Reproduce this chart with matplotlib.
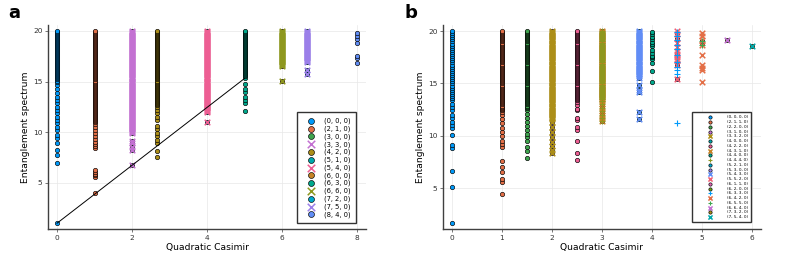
import matplotlib
matplotlib.use("Agg")
import matplotlib.pyplot as plt

# Julia Plots default palette
palette = ['#009AFA', '#E36F47', '#3EA44E', '#C371D2', '#AC8E18', '#00A9AD',
           '#ED5E93', '#C68225', '#00A98D', '#8E971E', '#00A8CB', '#9B7FE9',
           '#618DF6', '#F05F73', '#DD65B6', '#6C9E17']

# levels of the dense part of every column (read as a near continuous run)
dense_levels = [8.0, 8.1, 8.2, 8.3, 8.4, 8.5, 8.6, 8.7, 8.8, 8.9, 9.0, 9.1, 9.2, 9.3,
                9.4, 9.5, 9.6, 9.7, 9.8, 9.9, 10.0, 10.1, 10.2, 10.3, 10.4, 10.5, 10.6,
                10.7, 10.8, 10.9, 11.0, 11.1, 11.2, 11.3, 11.4, 11.5, 11.6, 11.7, 11.8,
                11.9, 12.0, 12.1, 12.2, 12.3, 12.4, 12.5, 12.6, 12.7, 12.8, 12.9, 13.0,
                13.1, 13.2, 13.3, 13.4, 13.5, 13.6, 13.7, 13.8, 13.9, 14.0, 14.1, 14.2,
                14.3, 14.4, 14.5, 14.6, 14.7, 14.8, 14.9, 15.0, 15.1, 15.2, 15.3, 15.4,
                15.5, 15.6, 15.7, 15.8, 15.9, 16.0, 16.1, 16.2, 16.3, 16.4, 16.5, 16.6,
                16.7, 16.8, 16.9, 17.0, 17.1, 17.2, 17.3, 17.4, 17.5, 17.6, 17.7, 17.8,
                17.9, 18.0, 18.1, 18.2, 18.3, 18.4, 18.5, 18.6, 18.7, 18.8, 18.9, 19.0,
                19.1, 19.2, 19.3, 19.4, 19.5, 19.6, 19.7, 19.8, 19.9, 20.0]


def column(sparse, start):
    return sparse + [v for v in dense_levels if v >= start]


# ---------------- panel a : SU(3) ----------------
a_labels = ['(0, 0, 0)', '(2, 1, 0)', '(3, 0, 0)', '(3, 3, 0)', '(4, 2, 0)', '(5, 1, 0)',
            '(5, 4, 0)', '(6, 0, 0)', '(6, 3, 0)', '(6, 6, 0)', '(7, 2, 0)', '(7, 5, 0)',
            '(8, 4, 0)']
a_casimir = [0, 1, 2, 2, 2.667, 4, 4, 6, 5, 6, 6.667, 6.667, 8]
a_markers = ['o', 'o', 'o', 'x', 'o', 'o', 'x', 'o', 'o', 'x', 'o', 'x', 'o']

a_y_0 = column([1.03, 6.95, 7.75, 8.2, 8.9, 9.4, 9.75, 10.2, 10.55, 10.9, 11.2, 11.5, 11.9,
                12.2, 12.5, 12.9, 13.2, 13.5, 13.85, 14.3, 14.7], 15.0)
a_y_1 = column([4.05, 5.6, 5.75, 5.9, 6.1, 6.3, 8.4, 8.6, 8.8, 9.0, 9.3, 9.6, 9.9, 10.2,
                10.5, 10.8], 11.0)
a_y_2 = column([6.8, 8.25, 8.5, 8.9, 9.15], 9.9)
a_y_3 = column([7.6, 8.15, 8.9, 9.25, 9.6, 9.9, 10.3, 10.6, 11.2, 11.5, 11.9, 12.2, 12.5], 12.7)
a_y_4 = column([11.0], 12.0)
a_y_5 = column([12.05, 12.9, 13.2, 13.5, 14.0, 14.3, 14.8, 15.3], 15.5)
a_y_6 = column([15.1], 16.5)
a_y_7 = column([15.75, 16.15], 16.9)
a_y_8 = [16.87, 17.3, 17.53, 18.8, 19.18, 19.5, 19.77]
a_series_y = [a_y_0, a_y_1, a_y_2, a_y_2, a_y_3, a_y_4, a_y_4, a_y_6, a_y_5, a_y_6,
              a_y_7, a_y_7, a_y_8]

line_x = [0, 5]
line_y = [1.03, 15.3]

# ---------------- panel b : SU(4) ----------------
b_labels = ['(0, 0, 0, 0)', '(2, 1, 1, 0)', '(2, 2, 0, 0)', '(3, 1, 0, 0)', '(3, 3, 2, 0)',
            '(4, 0, 0, 0)', '(4, 2, 2, 0)', '(4, 3, 1, 0)', '(4, 4, 0, 0)', '(4, 4, 4, 0)',
            '(5, 2, 1, 0)', '(5, 3, 0, 0)', '(5, 4, 3, 0)', '(5, 5, 2, 0)', '(6, 1, 1, 0)',
            '(6, 2, 0, 0)', '(6, 3, 3, 0)', '(6, 4, 2, 0)', '(6, 5, 5, 0)', '(6, 6, 4, 0)',
            '(7, 3, 2, 0)', '(7, 5, 4, 0)']
b_casimir = [0, 1, 1.5, 2, 2, 3, 2.5, 3, 4, 3, 3.75, 4.5, 3.75, 4.5, 5, 5.5, 4.5, 5, 5,
             5.5, 6, 6]
b_markers = ['o', 'o', 'o', 'o', 'x', 'o', 'o', 'x', 'o', '+', 'o', 'o', 'x', 'x', 'o',
             'o', '+', 'x', '+', 'x', 'o', 'x']

b_y_0 = [1.73, 5.16, 6.69, 8.9, 9.13, 10.05, 10.8, 11.04, 11.36, 11.67, 11.99, 12.47,
         12.72, 13.04, 13.4, 13.6, 13.8, 14.0, 14.2, 14.4, 14.6, 14.8, 15.0, 15.2, 15.4,
         15.6, 15.8, 16.0, 16.2, 16.4, 16.6, 16.8, 17.0, 17.2, 17.4, 17.6, 17.8, 18.0,
         18.2, 18.4, 18.6, 18.8, 19.0, 19.2, 19.4, 19.6, 19.8, 20.0]
b_y_1 = column([4.46, 5.64, 5.86, 6.53, 7.04, 7.6, 8.97, 9.23, 9.55, 10.0, 10.4, 10.8,
                11.2, 11.58, 11.99, 12.3], 12.5)
b_y_15 = column([7.86, 8.6, 8.97, 9.55, 9.86, 10.18, 10.56, 10.94, 11.36, 11.67, 12.09,
                 12.47], 12.7)
b_y_2 = column([8.34, 8.66, 9.04, 9.45, 9.93, 10.4, 10.9, 11.36], 11.6)
b_y_25 = column([7.7, 8.4, 9.55, 10.6, 10.9, 11.5, 11.7, 12.47, 12.6, 12.95, 13.26], 13.4)
b_y_3 = column([11.4, 11.7, 12.0, 12.35, 12.7, 13.0, 13.3], 13.5)
b_y_375 = column([11.6, 12.3, 14.2, 14.4, 14.85, 15.5], 15.7)
b_y_4 = [15.1, 16.2, 16.98, 17.3, 17.49, 17.62, 17.87, 18.19, 18.57, 18.76, 18.98,
         19.24, 19.46, 19.71, 19.94]
b_y_45_circ = [15.4, 16.75, 17.6, 17.9, 19.2, 19.8]
b_y_45_x = [15.4, 16.8, 17.2, 17.3, 17.5, 17.8, 18.1, 18.5, 18.9, 19.3, 19.7, 20.0]
b_y_45_plus = [11.2, 15.9, 16.3, 16.6, 17.0, 17.7, 18.3, 18.7, 19.1, 19.5, 19.9]
b_y_5_circ = [18.8, 19.0]
b_y_5_x = [15.1, 16.3, 16.45, 16.75, 17.7, 18.65, 19.15, 19.5, 19.8]
b_y_5_plus = [18.7, 19.0]
b_y_55 = [19.14]
b_y_6 = [18.57]
b_series_y = [b_y_0, b_y_1, b_y_15, b_y_2, b_y_2, b_y_3, b_y_25, b_y_3, b_y_4, b_y_3,
              b_y_375, b_y_45_circ, b_y_375, b_y_45_x, b_y_5_circ, b_y_55, b_y_45_plus,
              b_y_5_x, b_y_5_plus, b_y_55, b_y_6, b_y_6]


def draw(ax, xs, ys_list, markers, labels):
    for i, (x, ys, m, lab) in enumerate(zip(xs, ys_list, markers, labels)):
        col = palette[i % len(palette)]
        xv = [x] * len(ys)
        if m == 'o':
            ax.scatter(xv, ys, s=10, c=col, edgecolors='black', linewidths=0.45,
                       label=lab, zorder=2)
        elif m == 'x':
            ax.scatter(xv, ys, s=16, c=col, marker=m, linewidths=1.1,
                       label=lab, zorder=2)
        else:
            ax.scatter(xv, ys, s=16, c=col, marker=m, linewidths=0.8,
                       label=lab, zorder=2)


def style(ax, xticks):
    for s in ['top', 'right']:
        ax.spines[s].set_visible(False)
    for s in ['left', 'bottom']:
        ax.spines[s].set_color('#404040')
        ax.spines[s].set_linewidth(1.0)
    ax.grid(True, color='#e8e8e8', linewidth=0.5, zorder=0)
    ax.set_axisbelow(True)
    ax.set_xticks(xticks)
    ax.set_yticks([5, 10, 15, 20])
    ax.tick_params(labelsize=5.3, length=2, width=0.5, colors='#404040',
                   labelcolor='#333333', pad=2)
    ax.set_xlabel('Quadratic Casimir', fontsize=6.6, labelpad=2)
    ax.set_ylabel('Entanglement spectrum', fontsize=6.6, labelpad=2)


fig = plt.figure(figsize=(7.86, 2.74), dpi=100)
ax_a = fig.add_axes([0.0611, 0.1642, 0.4046, 0.7445])
ax_b = fig.add_axes([0.5636, 0.1642, 0.4046, 0.7445])

draw(ax_a, a_casimir, a_series_y, a_markers, a_labels)
ax_a.plot(line_x, line_y, color='black', linewidth=0.7, zorder=3)
style(ax_a, [0, 2, 4, 6, 8])
ax_a.set_xlim(-0.24, 8.24)
ax_a.set_ylim(0.46, 20.57)
leg_a = ax_a.legend(loc='lower right', bbox_to_anchor=(0.969, 0.029), fontsize=4.9,
                    scatterpoints=1, markerscale=1.35, labelspacing=0.19,
                    handletextpad=0.75, borderpad=0.8, handlelength=2.4,
                    borderaxespad=0, fancybox=False, framealpha=1, edgecolor='#333333')
leg_a.get_frame().set_linewidth(1.0)

draw(ax_b, b_casimir, b_series_y, b_markers, b_labels)
style(ax_b, [0, 1, 2, 3, 4, 5, 6])
ax_b.set_xlim(-0.18, 6.18)
ax_b.set_ylim(1.14, 20.57)
leg_b = ax_b.legend(loc='lower right', bbox_to_anchor=(0.969, 0.034), fontsize=3.0,
                    scatterpoints=1, markerscale=0.75, labelspacing=0.18,
                    handletextpad=0.6, borderpad=0.7, handlelength=7.0,
                    borderaxespad=0, fancybox=False, framealpha=1, edgecolor='#333333')
leg_b.get_frame().set_linewidth(1.0)

fig.text(0.010, 0.985, 'a', fontsize=13, fontweight='bold', va='top', ha='left')
fig.text(0.514, 0.985, 'b', fontsize=13, fontweight='bold', va='top', ha='left')

fig.savefig('out.png', dpi=100)
